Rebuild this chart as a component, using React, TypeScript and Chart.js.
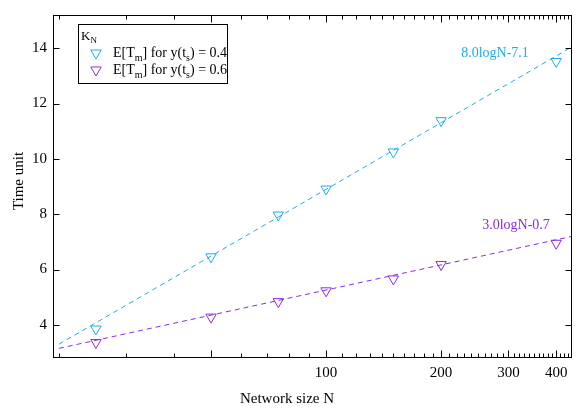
import { useEffect, useRef } from "react";
import { Chart, registerables } from "chart.js";

Chart.register(...registerables);

// ---- data ----
const networkSizes = [25, 50, 75, 100, 150, 200, 400];
const timeY04 = [3.85, 6.46, 7.97, 8.91, 10.25, 11.38, 13.52];
const timeY06 = [3.36, 4.28, 4.84, 5.23, 5.66, 6.18, 6.95];
const fitRangeN = [20, 440];
const fitY04 = [3.3, 14.05];
const fitY06 = [3.15, 7.2];
const yTickValues = [4, 6, 8, 10, 12, 14];
const xTickLabels = [100, 200, 300, 400];
const xMajorTicks = [50, 100, 200, 300, 400];
const fitLabel04 = "8.0logN-7.1";
const fitLabel06 = "3.0logN-0.7";
const xTitle = "Network size N";
const yTitle = "Time unit";

const BLUE = "#1eaaf0";
const PURPLE = "#8a2be2";
const SERIF = "'Liberation Serif', 'Times New Roman', serif";

function drawRich(ctx: CanvasRenderingContext2D, x: number, y: number, parts: { t: string; sub?: boolean }[], size: number) {
  let cx = x;
  for (const p of parts) {
    if (p.sub) {
      ctx.font = `${Math.round(size * 0.7)}px ${SERIF}`;
      ctx.fillText(p.t, cx, y + size * 0.25);
    } else {
      ctx.font = `${size}px ${SERIF}`;
      ctx.fillText(p.t, cx, y);
    }
    cx += ctx.measureText(p.t).width;
  }
}

function drawTri(ctx: CanvasRenderingContext2D, x: number, y: number, r: number, color: string) {
  ctx.beginPath();
  ctx.moveTo(x, y + r);
  ctx.lineTo(x - 0.866 * r, y - 0.5 * r);
  ctx.lineTo(x + 0.866 * r, y - 0.5 * r);
  ctx.closePath();
  ctx.strokeStyle = color;
  ctx.lineWidth = 1;
  ctx.stroke();
}

const framePlugin = {
  id: "frame",
  afterDraw(chart: any) {
    const { ctx, chartArea } = chart;
    const { left, right, top, bottom } = chartArea;
    const xs = chart.scales.x;
    const ys = chart.scales.y;
    ctx.save();
    ctx.strokeStyle = "#000";
    ctx.lineWidth = 1;
    const L = Math.round(left) + 0.5, R = Math.round(right) - 0.5, T = Math.round(top) + 0.5, B = Math.round(bottom) - 0.5;
    ctx.strokeRect(L, T, R - L, B - T);
    ctx.beginPath();
    // y ticks
    for (const v of yTickValues) {
      const py = Math.round(ys.getPixelForValue(v)) + 0.5;
      ctx.moveTo(L, py); ctx.lineTo(L + 6, py);
      ctx.moveTo(R, py); ctx.lineTo(R - 6, py);
    }
    // x ticks
    for (let n = 20; n <= 440; n += 10) {
      const px = Math.round(xs.getPixelForValue(n)) + 0.5;
      if (px <= L || px >= R) continue;
      const len = xMajorTicks.includes(n) ? 7 : 4;
      ctx.moveTo(px, B); ctx.lineTo(px, B - len);
      ctx.moveTo(px, T); ctx.lineTo(px, T + len);
    }
    ctx.stroke();

    // axis titles
    ctx.fillStyle = "#000";
    ctx.font = `15px ${SERIF}`;
    ctx.textAlign = "center";
    ctx.textBaseline = "alphabetic";
    ctx.fillText(xTitle, 287, 403);
    ctx.save();
    ctx.translate(22.5, 181);
    ctx.rotate(-Math.PI / 2);
    ctx.fillText(yTitle, 0, 0);
    ctx.restore();

    // fit labels
    ctx.font = `14px ${SERIF}`;
    ctx.fillStyle = BLUE;
    ctx.fillText(fitLabel04, 495, 56.5);
    ctx.fillStyle = PURPLE;
    ctx.fillText(fitLabel06, 516, 229);

    // legend
    ctx.fillStyle = "#fff";
    ctx.fillRect(78.5, 24.5, 149, 59);
    ctx.strokeStyle = "#000";
    ctx.strokeRect(78.5, 24.5, 149, 59);
    ctx.fillStyle = "#000";
    ctx.textAlign = "left";
    drawRich(ctx, 81, 39.5, [{ t: "K" }, { t: "N", sub: true }], 13);
    drawTri(ctx, 96, 53, 6, BLUE);
    drawRich(ctx, 113, 57, [{ t: "E[T" }, { t: "m", sub: true }, { t: "] for y(t" }, { t: "s", sub: true }, { t: ") = 0.4" }], 14);
    drawTri(ctx, 96, 70, 6, PURPLE);
    drawRich(ctx, 113, 74, [{ t: "E[T" }, { t: "m", sub: true }, { t: "] for y(t" }, { t: "s", sub: true }, { t: ") = 0.6" }], 14);
    ctx.restore();
  },
};

export default function App() {
  const ref = useRef<HTMLCanvasElement>(null);
  useEffect(() => {
    if (!ref.current) return;
    const mk = (ys: number[]) => networkSizes.map((n, i) => ({ x: n, y: ys[i] }));
    const fit = (ys: number[]) => fitRangeN.map((n, i) => ({ x: n, y: ys[i] }));
    const chart = new Chart(ref.current, {
      type: "scatter",
      data: {
        datasets: [
          { data: fit(fitY04), showLine: true, borderColor: BLUE, borderWidth: 1, borderDash: [5, 4], pointRadius: 0 },
          { data: fit(fitY06), showLine: true, borderColor: PURPLE, borderWidth: 1, borderDash: [5, 4], pointRadius: 0 },
          { data: mk(timeY04), pointStyle: "triangle", rotation: 180, radius: 6, borderColor: BLUE, backgroundColor: "rgba(0,0,0,0)", borderWidth: 1 },
          { data: mk(timeY06), pointStyle: "triangle", rotation: 180, radius: 6, borderColor: PURPLE, backgroundColor: "rgba(0,0,0,0)", borderWidth: 1 },
        ] as any,
      },
      options: {
        animation: false,
        responsive: false,
        layout: { padding: { top: 5, right: 2, left: 0, bottom: 0 } },
        plugins: { legend: { display: false }, tooltip: { enabled: false } },
        scales: {
          x: {
            type: "logarithmic",
            min: 19.3,
            max: 440,
            grid: { display: false, drawTicks: false },
            border: { display: false },
            afterBuildTicks: (s: any) => { s.ticks = xTickLabels.map((v) => ({ value: v })); },
            afterFit: (s: any) => { s.height = 53.5; },
            ticks: {
              autoSkip: false,
              maxRotation: 0,
              padding: 7,
              color: "#000",
              font: { family: SERIF, size: 15 },
              callback: (v: any) => String(v),
            },
          },
          y: {
            min: 2.82,
            max: 15.2,
            grid: { display: false, drawTicks: false },
            border: { display: false },
            afterBuildTicks: (s: any) => { s.ticks = yTickValues.map((v) => ({ value: v })); },
            afterFit: (s: any) => { s.width = 53; },
            ticks: {
              padding: 6,
              color: "#000",
              font: { family: SERIF, size: 15 },
              callback: (v: any) => String(v),
            },
          },
        },
      } as any,
      plugins: [framePlugin],
    });
    return () => chart.destroy();
  }, []);
  return (
    <canvas
      ref={ref}
      width={579}
      height={411}
      style={{ position: "absolute", left: 0, top: 0, width: 579, height: 411 }}
    />
  );
}
